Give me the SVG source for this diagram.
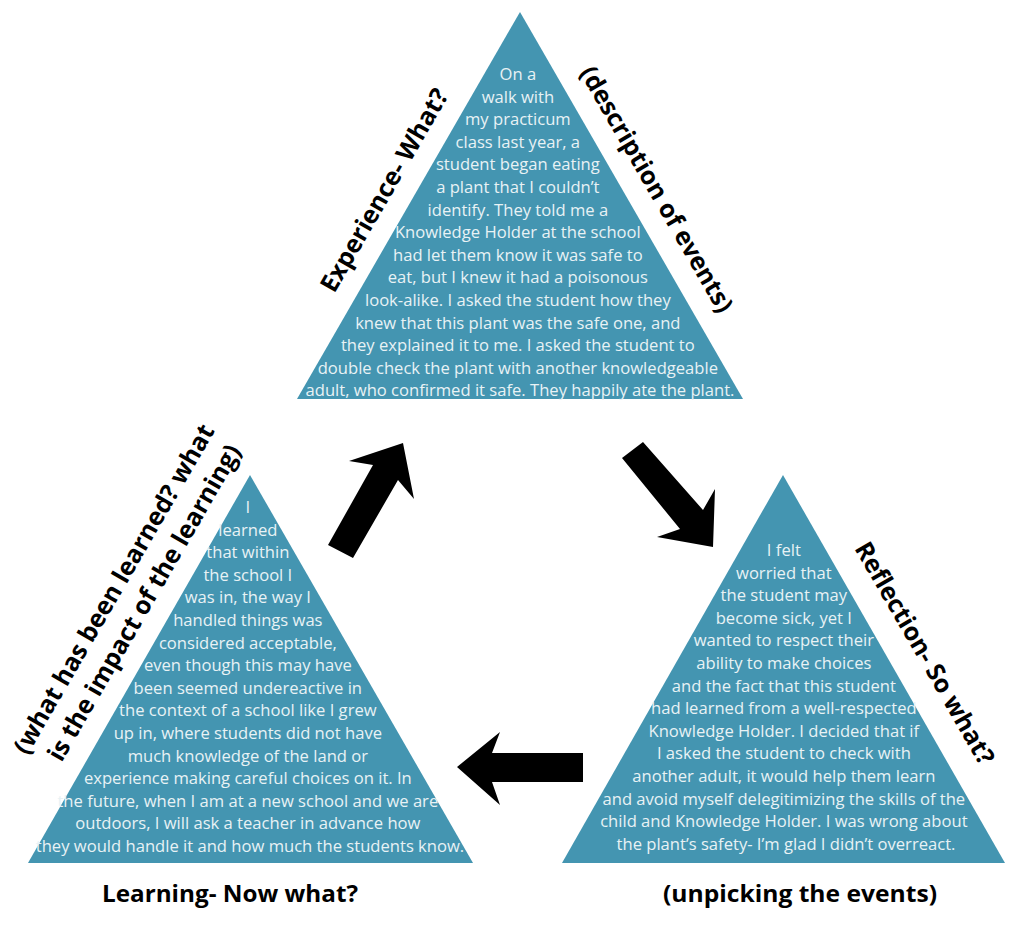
<svg xmlns="http://www.w3.org/2000/svg" width="1024" height="928" viewBox="0 0 1024 928">
<style>
.tri{fill:#4495b1}
.body{font-family:"Open Sans","DejaVu Sans",sans-serif;font-size:16.6px;fill:#e8f2f5;text-anchor:middle}
.lbl{font-family:"Open Sans","DejaVu Sans",sans-serif;font-weight:bold;font-size:25px;fill:#000;text-anchor:middle}
.bot{font-family:"Open Sans","DejaVu Sans",sans-serif;font-weight:bold;font-size:24px;fill:#000;text-anchor:middle}
.arrow{fill:#000}
</style>
<rect width="1024" height="928" fill="#fff"/>
<g id="experience">
<polygon class="tri" points="520,12 297,399 743,399"/>
<text class="body">
<tspan x="520" y="80">On a</tspan>
<tspan x="520" y="102.6">walk with</tspan>
<tspan x="520" y="125.2">my practicum</tspan>
<tspan x="520" y="147.8">class last year, a</tspan>
<tspan x="520" y="170.4">student began eating</tspan>
<tspan x="520" y="193">a plant that I couldn’t</tspan>
<tspan x="520" y="215.6">identify. They told me a</tspan>
<tspan x="520" y="238.2">Knowledge Holder at the school</tspan>
<tspan x="520" y="260.8">had let them know it was safe to</tspan>
<tspan x="520" y="283.4">eat, but I knew it had a poisonous</tspan>
<tspan x="520" y="306">look-alike. I asked the student how they</tspan>
<tspan x="520" y="328.6">knew that this plant was the safe one, and</tspan>
<tspan x="520" y="351.2">they explained it to me. I asked the student to</tspan>
<tspan x="520" y="373.8">double check the plant with another knowledgeable</tspan>
<tspan x="520" y="396.4">adult, who confirmed it safe. They happily ate the plant.</tspan>
</text>
<text class="lbl" transform="translate(384,190) rotate(-60)" dy="9">Experience- What?</text>
<text class="lbl" transform="translate(657,189) rotate(60)" dy="9">(description of events)</text>
</g>
<g id="reflection">
<polygon class="tri" points="783,475 562,863 1005,863"/>
<text class="body">
<tspan x="786" y="556">I felt</tspan>
<tspan x="786" y="578.6">worried that</tspan>
<tspan x="786" y="601.2">the student may</tspan>
<tspan x="786" y="623.8">become sick, yet I</tspan>
<tspan x="786" y="646.4">wanted to respect their</tspan>
<tspan x="786" y="669">ability to make choices</tspan>
<tspan x="786" y="691.6">and the fact that this student</tspan>
<tspan x="786" y="714.2">had learned from a well-respected</tspan>
<tspan x="786" y="736.8">Knowledge Holder. I decided that if</tspan>
<tspan x="786" y="759.4">I asked the student to check with</tspan>
<tspan x="786" y="782">another adult, it would help them learn</tspan>
<tspan x="786" y="804.6">and avoid myself delegitimizing the skills of the</tspan>
<tspan x="786" y="827.2">child and Knowledge Holder. I was wrong about</tspan>
<tspan x="786" y="849.8">the plant’s safety- I’m glad I didn’t overreact.</tspan>
</text>
<text class="lbl" transform="translate(925,653) rotate(60)" dy="9">Reflection- So what?</text>
<text class="bot" x="800" y="902" textLength="274" lengthAdjust="spacingAndGlyphs">(unpicking the events)</text>
</g>
<g id="learning">
<polygon class="tri" points="250,475 28,863 473,863"/>
<text class="body">
<tspan x="250" y="513">I</tspan>
<tspan x="250" y="535.6">learned</tspan>
<tspan x="250" y="558.2">that within</tspan>
<tspan x="250" y="580.8">the school I</tspan>
<tspan x="250" y="603.4">was in, the way I</tspan>
<tspan x="250" y="626">handled things was</tspan>
<tspan x="250" y="648.6">considered acceptable,</tspan>
<tspan x="250" y="671.2">even though this may have</tspan>
<tspan x="250" y="693.8">been seemed undereactive in</tspan>
<tspan x="250" y="716.4">the context of a school like I grew</tspan>
<tspan x="250" y="739">up in, where students did not have</tspan>
<tspan x="250" y="761.6">much knowledge of the land or</tspan>
<tspan x="250" y="784.2">experience making careful choices on it. In</tspan>
<tspan x="250" y="806.8">the future, when I am at a new school and we are</tspan>
<tspan x="250" y="829.4">outdoors, I will ask a teacher in advance how</tspan>
<tspan x="250" y="852">they would handle it and how much the students know.</tspan>
</text>
<text class="lbl" transform="translate(129,594) rotate(-60)">
<tspan x="0" y="-7">(what has been learned? what</tspan>
<tspan x="0" y="26">is the impact of the learning)</tspan>
</text>
<text class="bot" x="230" y="902" textLength="256" lengthAdjust="spacingAndGlyphs">Learning- Now what?</text>
</g>
<g id="connectors">
<polygon class="arrow" points="328,545 373,465 349,461 403,443 414,499 398,480 353,558"/>
<polygon class="arrow" points="643,442 703,510 715,489 713,547 657,537 680,529 622,458"/>
<polygon class="arrow" points="583,753 492,753 500,732 457,767 500,805 492,782 583,782"/>
</g>
</svg>
